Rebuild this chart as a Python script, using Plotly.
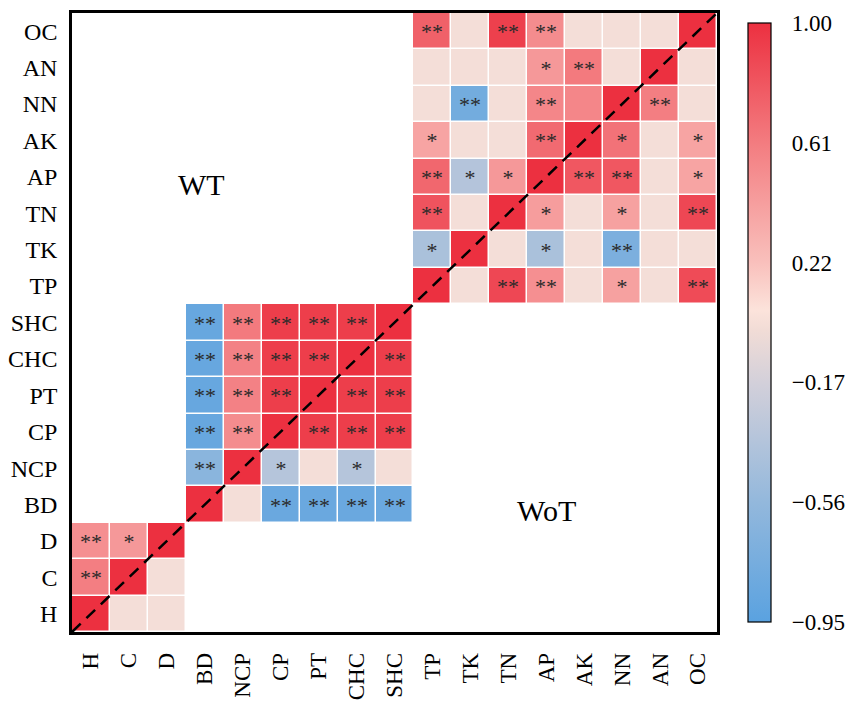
import plotly.graph_objects as go

# variable order, bottom-to-top on y and left-to-right on x
labels = ["H", "C", "D", "BD", "NCP", "CP", "PT", "CHC", "SHC",
          "TP", "TK", "TN", "AP", "AK", "NN", "AN", "OC"]

# block 1: H, C, D  (rows written top -> bottom: D, C, H)
block1_r = [
    [0.50, 0.45, 1.00],
    [0.60, 1.00, 0.02],
    [1.00, 0.02, 0.02],
]
block1_sig = [
    ["**", "*", ""],
    ["**", "", ""],
    ["", "", ""],
]

# block 2: BD, NCP, CP, PT, CHC, SHC  (rows top -> bottom: SHC ... BD)
block2_r = [
    [-0.86, 0.62, 0.93, 0.93, 0.93, 1.00],
    [-0.86, 0.58, 0.93, 0.93, 1.00, 0.93],
    [-0.86, 0.58, 0.93, 1.00, 0.93, 0.93],
    [-0.86, 0.52, 1.00, 0.93, 0.93, 0.93],
    [-0.62, 1.00, -0.35, 0.02, -0.35, 0.02],
    [1.00, 0.02, -0.84, -0.84, -0.84, -0.84],
]
block2_sig = [
    ["**", "**", "**", "**", "**", ""],
    ["**", "**", "**", "**", "", "**"],
    ["**", "**", "**", "", "**", "**"],
    ["**", "**", "", "**", "**", "**"],
    ["**", "", "*", "", "*", ""],
    ["", "", "**", "**", "**", "**"],
]

# block 3: TP, TK, TN, AP, AK, NN, AN, OC  (rows top -> bottom: OC ... TP)
block3_r = [
    [0.75, 0.02, 0.92, 0.52, 0.02, 0.02, 0.02, 1.00],
    [0.02, 0.02, 0.02, 0.45, 0.62, 0.02, 1.00, 0.02],
    [0.02, -0.78, 0.02, 0.55, 0.55, 1.00, 0.60, 0.02],
    [0.38, 0.02, 0.02, 0.70, 1.00, 0.66, 0.02, 0.38],
    [0.72, -0.36, 0.45, 1.00, 0.80, 0.80, 0.02, 0.38],
    [0.82, 0.02, 1.00, 0.42, 0.02, 0.40, 0.02, 0.88],
    [-0.42, 1.00, 0.02, -0.42, 0.02, -0.72, 0.02, 0.02],
    [1.00, 0.02, 0.88, 0.50, 0.02, 0.40, 0.02, 0.86],
]
block3_sig = [
    ["**", "", "**", "**", "", "", "", ""],
    ["", "", "", "*", "**", "", "", ""],
    ["", "**", "", "**", "", "", "**", ""],
    ["*", "", "", "**", "", "*", "", "*"],
    ["**", "*", "*", "", "**", "**", "", "*"],
    ["**", "", "", "*", "", "*", "", "**"],
    ["*", "", "", "*", "", "**", "", ""],
    ["", "", "**", "**", "", "*", "", "**"],
]

cbar_vals = [1.00, 0.61, 0.22, -0.17, -0.56, -0.95]

n = len(labels)
z = [[None] * n for _ in range(n)]
txt = [[""] * n for _ in range(n)]
start = 0
for r, s in [(block1_r, block1_sig), (block2_r, block2_sig), (block3_r, block3_sig)]:
    m = len(r)
    for i, (row, srow) in enumerate(zip(reversed(r), reversed(s))):
        for j in range(m):
            z[start + i][start + j] = row[j]
            txt[start + i][start + j] = srow[j]
    start += m

colorscale = [
    [0.00, "#5AA2E0"],
    [0.20, "#93B8DC"],
    [0.40, "#D3D0DA"],
    [0.487, "#F1DCD6"],
    [0.52, "#FCE3DB"],
    [0.60, "#F9C0BC"],
    [0.80, "#F37C80"],
    [1.00, "#EC3040"],
]

FONT = "Liberation Serif"

fig = go.Figure()
fig.add_trace(
    go.Heatmap(
        x=labels,
        y=labels,
        z=z,
        text=txt,
        texttemplate="%{text}",
        textfont=dict(family=FONT, size=22, color="#2a2a2a"),
        zmin=-0.95,
        zmax=1.0,
        colorscale=colorscale,
        xgap=1.5,
        ygap=1.5,
        hoverongaps=False,
        colorbar=dict(
            x=1.048,
            xanchor="left",
            xpad=0,
            y=0.5,
            yanchor="middle",
            len=1.0,
            thickness=23,
            outlinecolor="black",
            outlinewidth=1.2,
            tickvals=cbar_vals,
            ticktext=[f"{v:.2f}".replace("-", "\u2212") for v in cbar_vals],
            ticks="outside",
            ticklen=16,
            tickcolor="rgba(0,0,0,0)",
            tickfont=dict(family=FONT, size=23, color="black"),
        ),
    )
)

# dashed diagonal
fig.add_shape(type="line", xref="paper", yref="paper", x0=0, y0=0, x1=1, y1=1,
              line=dict(color="black", width=2.5, dash="12px,8px"))

fig.add_annotation(x=2.9, y=11.8, text="WT", showarrow=False,
                   font=dict(family=FONT, size=30, color="black"))
fig.add_annotation(x=12.0, y=2.85, text="WoT", showarrow=False,
                   font=dict(family=FONT, size=30, color="black"))

axis_common = dict(
    showgrid=False,
    zeroline=False,
    showline=True,
    linecolor="black",
    linewidth=2.5,
    mirror=True,
    ticks="",
    automargin=False,
)
fig.update_xaxes(tickangle=-90, ticklabelstandoff=9,
                 tickfont=dict(family=FONT, size=23, color="black"), **axis_common)
fig.update_yaxes(ticklabelstandoff=7,
                 tickfont=dict(family=FONT, size=24, color="black"), **axis_common)

fig.update_layout(
    width=851,
    height=703,
    margin=dict(l=72, r=134, t=13, b=71, autoexpand=False),
    plot_bgcolor="white",
    paper_bgcolor="white",
    font=dict(family=FONT),
)

# drop the default page margin so the figure sits at the window corner
fig.write_html("out.html", config={"displayModeBar": False},
               post_script="document.body.style.margin='0';")
